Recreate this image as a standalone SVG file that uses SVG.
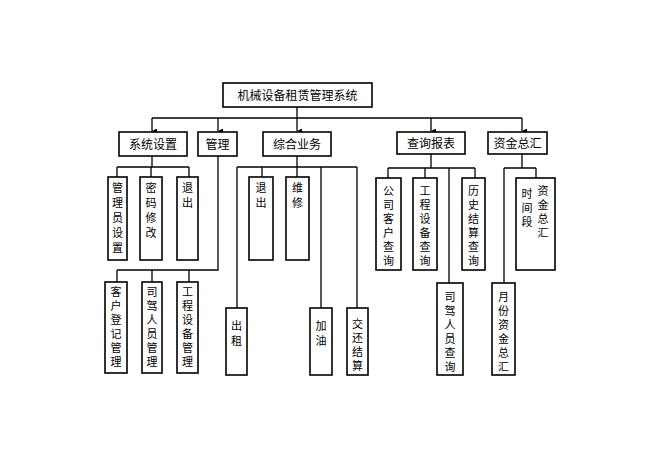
<svg xmlns="http://www.w3.org/2000/svg" width="654" height="453" viewBox="0 0 654 453">
<defs><marker id="a" viewBox="0 0 6 6" refX="3" refY="6" markerWidth="5" markerHeight="5" orient="auto-start-reverse" markerUnits="userSpaceOnUse"><path d="M0,0 L6,0 L3,6 Z" fill="#000"/></marker></defs>
<style>
rect{fill:#fff;stroke:#000;stroke-width:1.6}
text{font-family:"Noto Sans CJK SC","Noto Sans",sans-serif;font-size:12px;fill:#000;text-anchor:middle}
text.v{font-size:11px;writing-mode:vertical-rl;text-anchor:start;letter-spacing:4px}
text.w{font-size:11px;writing-mode:vertical-rl;text-anchor:start;letter-spacing:3px}
.c path{fill:none;stroke:#000;stroke-width:1.3}
</style>
<rect width="654" height="453" style="stroke:none"/>
<g class="c" id="connectors">
<path d="M297,107V118M152,118H522"/>
<path d="M152,118V131" marker-end="url(#a)"/><path d="M218,118V131" marker-end="url(#a)"/><path d="M297,118V131" marker-end="url(#a)"/><path d="M431,118V131" marker-end="url(#a)"/><path d="M522,118V131" marker-end="url(#a)"/>
<path d="M152,156V167M117,167H189M117,167V177M151,167V177M189,167V177"/>
<path d="M218,156V270H117M117,270V282M152,270V282M189,270V282"/>
<path d="M297,156V167M237,167H357M237,167V308M262,167V177M297,167V177M321,167V308M357,167V308"/>
<path d="M431,154V168M388,168H475M388,168V178M425,168V178M475,168V178M449,168V283"/>
<path d="M522,154V168M504,168H536M504,168V283M536,168V178"/>
</g>
<g id="root"><rect x="223" y="83" width="149" height="24"/><text x="297.5" y="100">机械设备租赁管理系统</text></g>
<g id="n1"><rect x="119" y="132" width="68" height="24"/><text x="153" y="149">系统设置</text></g>
<g id="n2"><rect x="198" y="132" width="39" height="24"/><text x="217.5" y="149">管理</text></g>
<g id="n3"><rect x="263" y="132" width="68" height="24"/><text x="297" y="149">综合业务</text></g>
<g id="n4"><rect x="397" y="132" width="68" height="22"/><text x="431" y="148">查询报表</text></g>
<g id="n5"><rect x="488" y="132" width="59" height="22"/><text x="517.5" y="148">资金总汇</text></g>
<g id="b1"><rect x="108" y="177" width="19" height="83"/><text class="v" x="117.5" y="182">管理员设置</text></g>
<g id="b2"><rect x="140" y="177" width="22" height="83"/><text class="v" x="151" y="182">密码修改</text></g>
<g id="b3"><rect x="177" y="177" width="21" height="83"/><text class="v" x="187.5" y="182">退出</text></g>
<g id="b4"><rect x="105" y="282" width="22" height="91"/><text class="w" x="116" y="286">客户登记管理</text></g>
<g id="b5"><rect x="142" y="282" width="20" height="91"/><text class="w" x="152" y="286">司驾人员管理</text></g>
<g id="b6"><rect x="177" y="282" width="21" height="91"/><text class="w" x="187.5" y="286">工程设备管理</text></g>
<g id="b7"><rect x="226" y="308" width="21" height="67"/><text class="v" x="236.5" y="320">出租</text></g>
<g id="b8"><rect x="249" y="177" width="24" height="83"/><text class="v" x="261" y="182">退出</text></g>
<g id="b9"><rect x="286" y="177" width="23" height="83"/><text class="v" x="297.5" y="182">维修</text></g>
<g id="b10"><rect x="310" y="308" width="22" height="67"/><text class="v" x="321" y="320">加油</text></g>
<g id="b11"><rect x="347" y="308" width="21" height="67"/><text class="w" x="357.5" y="318">交还结算</text></g>
<g id="b12"><rect x="376" y="178" width="25" height="92"/><text class="w" x="388.5" y="185">公司客户查询</text></g>
<g id="b13"><rect x="413" y="178" width="24" height="92"/><text class="w" x="425" y="185">工程设备查询</text></g>
<g id="b14"><rect x="437" y="283" width="26" height="92"/><text class="w" x="450" y="291">司驾人员查询</text></g>
<g id="b15"><rect x="462" y="178" width="23" height="92"/><text class="w" x="473.5" y="185">历史结算查询</text></g>
<g id="b16"><rect x="492" y="283" width="23" height="92"/><text class="w" x="503.5" y="291">月份资金总汇</text></g>
<g id="b17"><rect x="516" y="178" width="39" height="92"/><text class="w" x="543" y="185">资金总汇</text><text class="w" x="527" y="188">时间段</text></g>
</svg>
